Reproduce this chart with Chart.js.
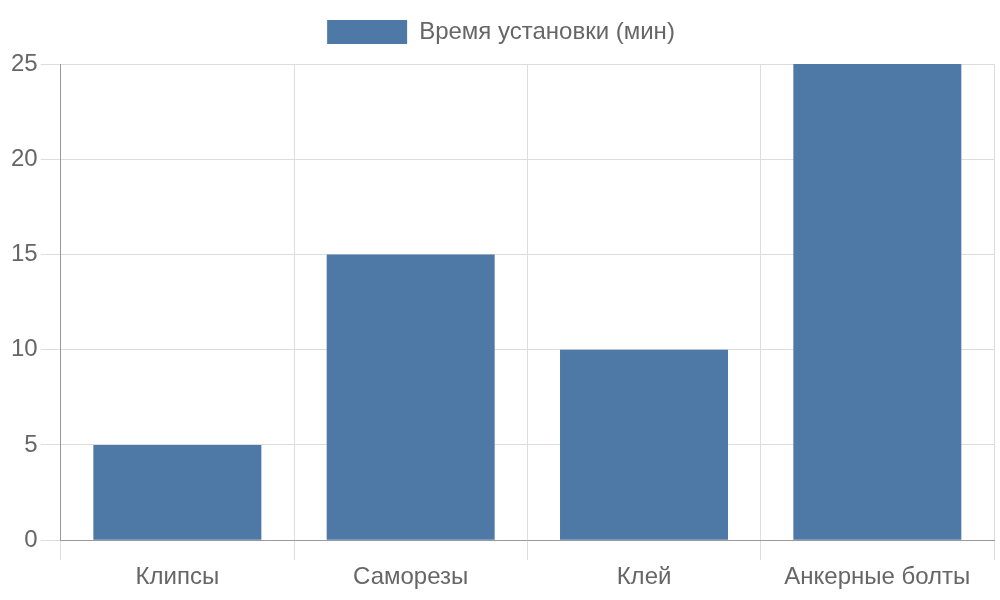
<!DOCTYPE html>
<html>
<head>
<meta charset="utf-8">
<script src="https://cdn.jsdelivr.net/npm/chart.js@4"></script>
<style>
  body { margin: 0; background: #fff; }
  #wrap { width: 1000px; height: 600px; }
</style>
</head>
<body>
<div id="wrap"><canvas id="chart"></canvas></div>
<script>
const categories = ["Клипсы", "Саморезы", "Клей", "Анкерные болты"];
const installTime = [5, 15, 10, 25];
const seriesLabel = "Время установки (мин)";

// a bit more room under the legend
const legendGap = {
  id: 'legendGap',
  beforeInit(chart) {
    const fit = chart.legend.fit;
    chart.legend.fit = function () {
      fit.call(this);
      this.height += 10;
    };
  }
};

new Chart(document.getElementById("chart"), {
    type: 'bar',
    data: {
      labels: categories,
      datasets: [
        {
          label: seriesLabel,
          backgroundColor: "#4E79A7",
          data: installTime
        }
      ]
    },
    options: {
      responsive: true,
      maintainAspectRatio: false,
      animation: false,
      layout: { padding: { left: 8, top: 0, right: 6, bottom: 5 } },
      plugins: {
        legend: {
          labels: {
            boxWidth: 80,
            boxHeight: 24,
            padding: 20,
            color: "#666",
            font: { family: "Liberation Sans", size: 24 }
          }
        }
      },
      scales: {
        x: {
          grid: { tickLength: 20, color: "#ddd" },
          border: { color: "#999" },
          ticks: { color: "#666", font: { family: "Liberation Sans", size: 24 } }
        },
        y: {
          min: 0,
          max: 25,
          grid: { tickLength: 20, color: "#ddd" },
          border: { color: "#999" },
          ticks: { stepSize: 5, color: "#666", font: { family: "Liberation Sans", size: 24 } }
        }
      }
    },
    plugins: [legendGap]
});
</script>
</body>
</html>
